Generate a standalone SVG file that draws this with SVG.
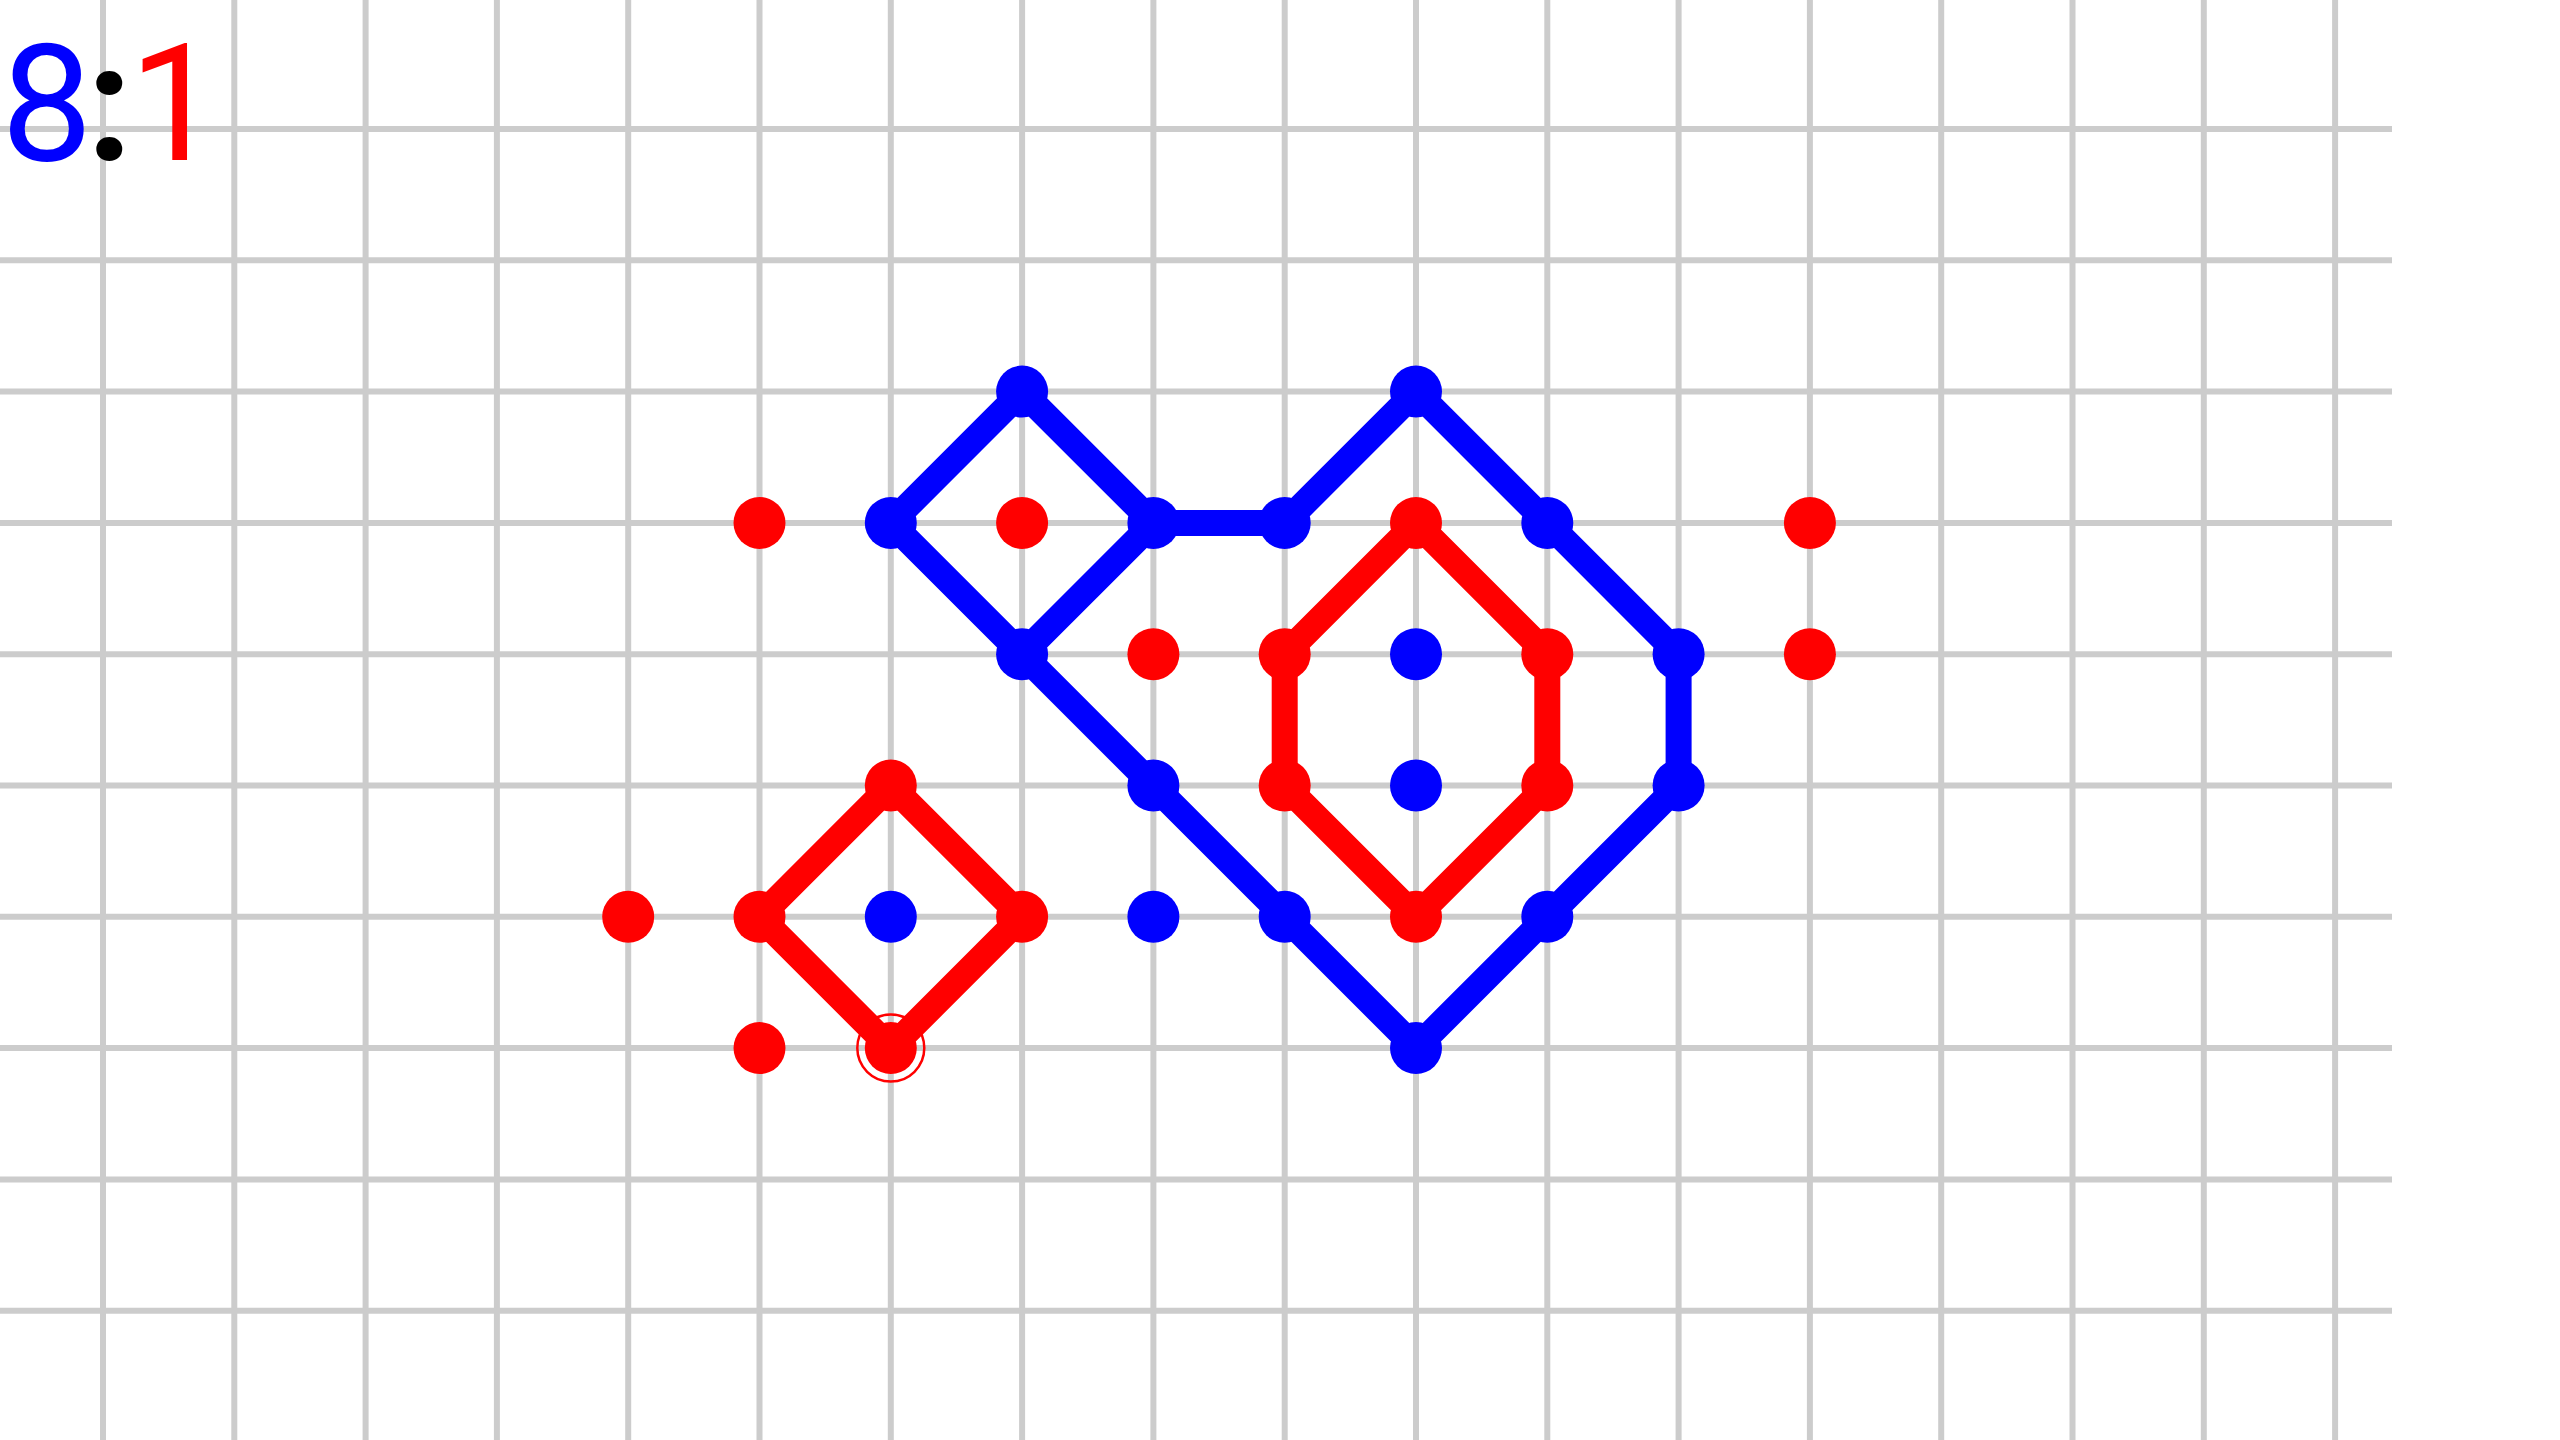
<svg xmlns="http://www.w3.org/2000/svg" width="2560" height="1440" viewBox="0 0 2560 1440">
<style>
.g{stroke:#cccccc;stroke-width:6;fill:none}
.bl{stroke:#0000ff;stroke-width:26;fill:none;stroke-linejoin:miter}
.rl{stroke:#ff0000;stroke-width:26;fill:none;stroke-linejoin:miter}
.b{fill:#0000ff}
.r{fill:#ff0000}
.t{font-family:Roboto,"Liberation Sans",sans-serif;font-size:163px}
</style>
<rect width="2560" height="1440" fill="#ffffff"/>
<g id="grid" class="g">
<line x1="103" y1="0" x2="103" y2="1440"/>
<line x1="234.3" y1="0" x2="234.3" y2="1440"/>
<line x1="365.6" y1="0" x2="365.6" y2="1440"/>
<line x1="496.9" y1="0" x2="496.9" y2="1440"/>
<line x1="628.2" y1="0" x2="628.2" y2="1440"/>
<line x1="759.5" y1="0" x2="759.5" y2="1440"/>
<line x1="890.8" y1="0" x2="890.8" y2="1440"/>
<line x1="1022.1" y1="0" x2="1022.1" y2="1440"/>
<line x1="1153.4" y1="0" x2="1153.4" y2="1440"/>
<line x1="1284.7" y1="0" x2="1284.7" y2="1440"/>
<line x1="1416" y1="0" x2="1416" y2="1440"/>
<line x1="1547.3" y1="0" x2="1547.3" y2="1440"/>
<line x1="1678.6" y1="0" x2="1678.6" y2="1440"/>
<line x1="1809.9" y1="0" x2="1809.9" y2="1440"/>
<line x1="1941.2" y1="0" x2="1941.2" y2="1440"/>
<line x1="2072.5" y1="0" x2="2072.5" y2="1440"/>
<line x1="2203.8" y1="0" x2="2203.8" y2="1440"/>
<line x1="2335.1" y1="0" x2="2335.1" y2="1440"/>
<line x1="0" y1="129" x2="2392" y2="129"/>
<line x1="0" y1="260.3" x2="2392" y2="260.3"/>
<line x1="0" y1="391.6" x2="2392" y2="391.6"/>
<line x1="0" y1="522.9" x2="2392" y2="522.9"/>
<line x1="0" y1="654.2" x2="2392" y2="654.2"/>
<line x1="0" y1="785.5" x2="2392" y2="785.5"/>
<line x1="0" y1="916.8" x2="2392" y2="916.8"/>
<line x1="0" y1="1048.1" x2="2392" y2="1048.1"/>
<line x1="0" y1="1179.4" x2="2392" y2="1179.4"/>
<line x1="0" y1="1310.7" x2="2392" y2="1310.7"/>
</g>
<g id="connectors">
<polygon class="bl" points="890.8,522.9 1022.1,391.6 1153.4,522.9 1022.1,654.2"/>
<polyline class="bl" points="1022.1,654.2 1153.4,785.5 1284.7,916.8 1416,1048.1 1547.3,916.8 1678.6,785.5 1678.6,654.2 1547.3,522.9 1416,391.6 1284.7,522.9 1153.4,522.9"/>
<polygon class="rl" points="1416,522.9 1547.3,654.2 1547.3,785.5 1416,916.8 1284.7,785.5 1284.7,654.2"/>
<polygon class="rl" points="890.8,785.5 1022.1,916.8 890.8,1048.1 759.5,916.8"/>
</g>
<g id="blue-nodes" class="b">
<g id="b-7-2"><circle cx="1022.1" cy="391.6" r="26"/></g>
<g id="b-6-3"><circle cx="890.8" cy="522.9" r="26"/></g>
<g id="b-8-3"><circle cx="1153.4" cy="522.9" r="26"/></g>
<g id="b-9-3"><circle cx="1284.7" cy="522.9" r="26"/></g>
<g id="b-10-2"><circle cx="1416" cy="391.6" r="26"/></g>
<g id="b-11-3"><circle cx="1547.3" cy="522.9" r="26"/></g>
<g id="b-7-4"><circle cx="1022.1" cy="654.2" r="26"/></g>
<g id="b-10-4"><circle cx="1416" cy="654.2" r="26"/></g>
<g id="b-12-4"><circle cx="1678.6" cy="654.2" r="26"/></g>
<g id="b-8-5"><circle cx="1153.4" cy="785.5" r="26"/></g>
<g id="b-10-5"><circle cx="1416" cy="785.5" r="26"/></g>
<g id="b-12-5"><circle cx="1678.6" cy="785.5" r="26"/></g>
<g id="b-6-6"><circle cx="890.8" cy="916.8" r="26"/></g>
<g id="b-8-6"><circle cx="1153.4" cy="916.8" r="26"/></g>
<g id="b-9-6"><circle cx="1284.7" cy="916.8" r="26"/></g>
<g id="b-11-6"><circle cx="1547.3" cy="916.8" r="26"/></g>
<g id="b-10-7"><circle cx="1416" cy="1048.1" r="26"/></g>
</g>
<g id="red-nodes" class="r">
<g id="r-5-3"><circle cx="759.5" cy="522.9" r="26"/></g>
<g id="r-7-3"><circle cx="1022.1" cy="522.9" r="26"/></g>
<g id="r-10-3"><circle cx="1416" cy="522.9" r="26"/></g>
<g id="r-13-3"><circle cx="1809.9" cy="522.9" r="26"/></g>
<g id="r-8-4"><circle cx="1153.4" cy="654.2" r="26"/></g>
<g id="r-9-4"><circle cx="1284.7" cy="654.2" r="26"/></g>
<g id="r-11-4"><circle cx="1547.3" cy="654.2" r="26"/></g>
<g id="r-13-4"><circle cx="1809.9" cy="654.2" r="26"/></g>
<g id="r-6-5"><circle cx="890.8" cy="785.5" r="26"/></g>
<g id="r-9-5"><circle cx="1284.7" cy="785.5" r="26"/></g>
<g id="r-11-5"><circle cx="1547.3" cy="785.5" r="26"/></g>
<g id="r-4-6"><circle cx="628.2" cy="916.8" r="26"/></g>
<g id="r-5-6"><circle cx="759.5" cy="916.8" r="26"/></g>
<g id="r-7-6"><circle cx="1022.1" cy="916.8" r="26"/></g>
<g id="r-10-6"><circle cx="1416" cy="916.8" r="26"/></g>
<g id="r-5-7"><circle cx="759.5" cy="1048.1" r="26"/></g>
<g id="r-6-7"><circle cx="890.8" cy="1048.1" r="26"/><circle cx="890.8" cy="1048.1" r="33.5" fill="none" stroke="#ff0000" stroke-width="2.5"/></g>
</g>
<g id="score" class="t">
<text x="1" y="160" fill="#0000ff">8</text>
<text x="109.5" y="160" fill="#000000" text-anchor="middle" font-weight="bold">:</text>
<text x="129" y="160" fill="#ff0000">1</text>
</g>
</svg>
